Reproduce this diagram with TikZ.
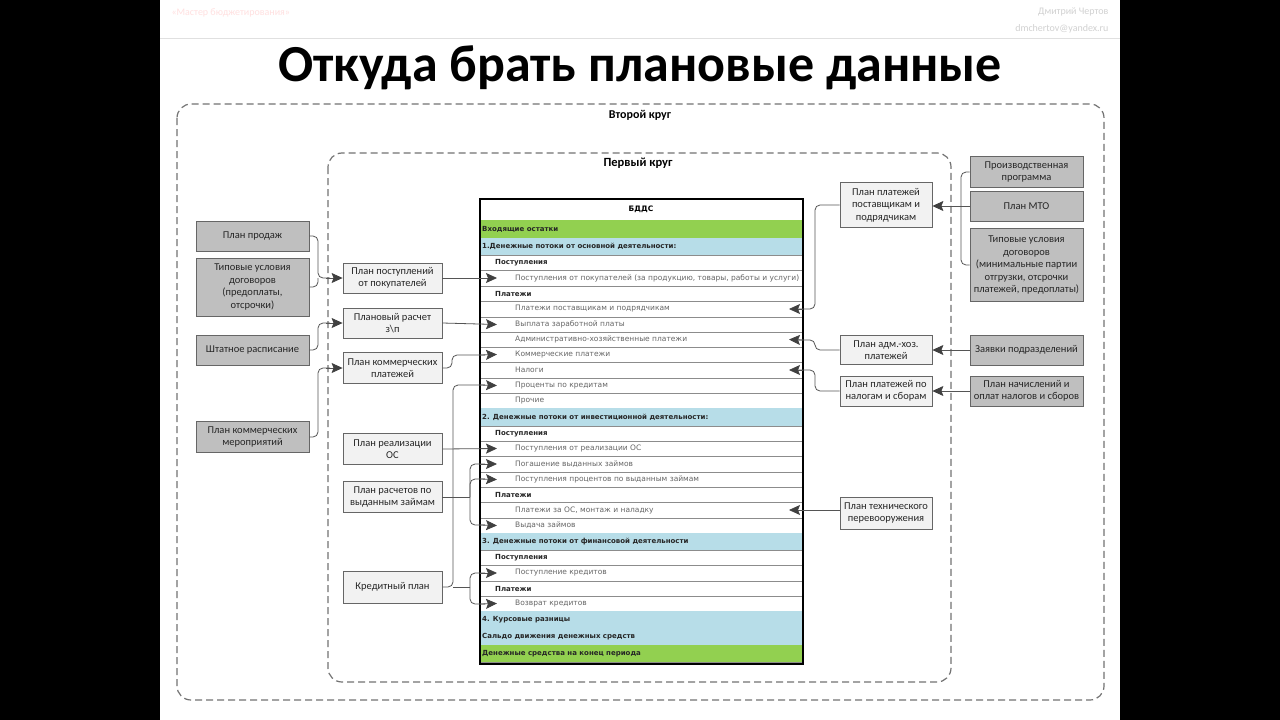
\documentclass[tikz,border=0pt]{standalone}
\usepackage{fontspec}
\setmainfont{Carlito}
\newfontfamily\tabfont{DejaVu Sans}
\usetikzlibrary{arrows.meta}
\definecolor{gbox}{HTML}{BFBFBF}
\definecolor{lbox}{HTML}{F2F2F2}
\definecolor{rgreen}{HTML}{92D050}
\definecolor{rblue}{HTML}{B7DDE8}
\definecolor{lgr}{HTML}{555555}
\tikzset{
 dbox/.style={draw=black!60,fill=gbox,line width=0.8pt,minimum width=113pt,align=center,font=\fontsize{10.5}{12.5}\selectfont,text=black!85,inner sep=1pt},
 lbx/.style={draw=black!60,fill=lbox,line width=0.8pt,align=center,font=\fontsize{10.5}{12.5}\selectfont,text=black!85,inner sep=1pt},
 conn/.style={draw=lgr,line width=0.8pt,rounded corners=5pt},
 arr/.style={draw=lgr,line width=0.8pt,-{Stealth[length=11pt,width=10pt,inset=2pt,color=black!75,fill=black!75]}},
 circ/.style={draw=black!55,dashed,dash pattern=on 7pt off 4pt,line width=1.2pt,rounded corners=14pt},
}
\begin{document}
\begin{tikzpicture}[x=1pt,y=-1pt]
\useasboundingbox (0,0) rectangle (1280,720);
\fill[black] (0,0) rectangle (160,720);
\fill[black] (1120,0) rectangle (1280,720);
\fill[white] (160,0) rectangle (1120,720);
\draw[black!12,line width=1pt] (160,38) -- (1120,38);
\node[anchor=west,text=red!12,font=\fontsize{10}{11}\selectfont] (hl) at (168,13) {«Мастер бюджетирования»};
\node[anchor=east,text=black!18,font=\fontsize{10}{11}\selectfont] (hr1) at (1112,12) {Дмитрий Чертов};
\node[anchor=east,text=black!18,font=\fontsize{10}{11}\selectfont] (hr2) at (1112,29) {dmchertov@yandex.ru};
\node[font=\fontsize{52}{56}\selectfont\bfseries] (title) at (640,68) {Откуда брать плановые данные};
\draw[circ] (177,104) rectangle (1104,700);
\draw[circ] (328,153) rectangle (951,682);
\node[font=\fontsize{12}{13}\selectfont\bfseries] (c2) at (640,115) {Второй круг};
\node[font=\fontsize{12.5}{13}\selectfont\bfseries] (c1) at (638,163) {Первый круг};
% table
\foreach \n/\ya/\yb/\st/\txt in {
0/199/220/h/БДДС,
1/220/238/g/Входящие остатки,
2/238/255/b/1.Денежные потоки от основной деятельности:,
3/255/270/s/Поступления,
4/270/286/i/{Поступления от покупателей (за продукцию, товары, работы и услуги)},
5/286/301/s/Платежи,
6/301/317/i/Платежи поставщикам и подрядчикам,
7/317/332/i/Выплата заработной платы,
8/332/347/i/Административно-хозяйственные платежи,
9/347/362/i/Коммерческие платежи,
10/362/378/i/Налоги,
11/378/393/i/Проценты по кредитам,
12/393/408/i/Прочие,
13/408/426/b/2. Денежные потоки от инвестиционной деятельности:,
14/426/441/s/Поступления,
15/441/456/i/Поступления от реализации ОС,
16/456/472/i/Погашение выданных займов,
17/472/487/i/Поступления процентов по выданным займам,
18/487/502/s/Платежи,
19/502/518/i/{Платежи за ОС, монтаж и наладку},
20/518/533/i/Выдача займов,
21/533/550/b/3. Денежные потоки от финансовой деятельности,
22/550/565/s/Поступления,
23/565/581/i/Поступление кредитов,
24/581/596/s/Платежи,
25/596/611/i/Возврат кредитов,
26/611/628/b/4. Курсовые разницы,
27/628/645/b/Сальдо движения денежных средств,
28/645/662/g/Денежные средства на конец периода}{
  \pgfmathsetmacro\ym{(\ya+\yb)/2}
  \if\st g \fill[rgreen] (480,\ya) rectangle (803,\yb);\fi
  \if\st b \fill[rblue] (480,\ya) rectangle (803,\yb);\fi
  \draw[black!45,line width=0.6pt] (480,\yb) -- (803,\yb);
  \coordinate (a\n) at (497,\ym);
  \coordinate (b\n) at (789,\ym);
  \if\st h \node[font=\tabfont\fontsize{7.5}{8}\selectfont\bfseries] (t\n) at (641,\ym) {\txt};\fi
  \if\st g \node[anchor=west,inner sep=1pt,font=\tabfont\fontsize{7}{8}\selectfont\bfseries,text=black!85] (t\n) at (481,\ym) {\txt};\fi
  \if\st b \node[anchor=west,inner sep=1pt,font=\tabfont\fontsize{7}{8}\selectfont\bfseries,text=black!85] (t\n) at (481,\ym) {\txt};\fi
  \if\st s \node[anchor=west,inner sep=1pt,font=\tabfont\fontsize{7}{8}\selectfont\bfseries,text=black!85] (t\n) at (494,\ym) {\txt};\fi
  \if\st i \node[anchor=west,inner sep=1pt,font=\tabfont\fontsize{7.5}{8}\selectfont,text=black!60] (t\n) at (514,\ym) {\txt};\fi
}
\draw[black,line width=2pt] (480,199) rectangle (803,664);
% left gray boxes
\node[dbox,minimum height=30pt] (pp) at (252.5,236) {План продаж};
\node[dbox,minimum height=58pt] (tu) at (252.5,287) {Типовые условия\\договоров\\(предоплаты,\\отсрочки)};
\node[dbox,minimum height=30pt] (sr) at (252.5,350) {Штатное расписание};
\node[dbox,minimum height=31pt] (km) at (252.5,437) {План коммерческих\\мероприятий};
% middle boxes
\node[lbx,minimum width=99pt,minimum height=30pt] (pps) at (392.5,278) {План поступлений\\от покупателей};
\node[lbx,minimum width=99pt,minimum height=30pt] (zp) at (392.5,323) {Плановый расчет\\з\textbackslash п};
\node[lbx,minimum width=99pt,minimum height=31pt] (kp) at (392.5,368) {План коммерческих\\платежей};
\node[lbx,minimum width=99pt,minimum height=31pt] (ros) at (392.5,449) {План реализации\\ОС};
\node[lbx,minimum width=99pt,minimum height=31pt] (vz) at (392.5,497) {План расчетов по\\выданным займам};
\node[lbx,minimum width=99pt,minimum height=32pt] (kr) at (392.5,587) {Кредитный план};
% right middle
\node[lbx,minimum width=92pt,minimum height=45pt] (pst) at (886,205) {План платежей\\поставщикам и\\подрядчикам};
\node[lbx,minimum width=92pt,minimum height=29pt] (adm) at (886,350) {План адм.-хоз.\\платежей};
\node[lbx,minimum width=92pt,minimum height=30pt] (nal) at (886,391) {План платежей по\\налогам и сборам};
\node[lbx,minimum width=92pt,minimum height=32pt] (teh) at (886,513) {План технического\\перевооружения};
% right gray
\node[dbox,minimum height=31pt] (prg) at (1026.5,172) {Производственная\\программа};
\node[dbox,minimum height=30pt] (mto) at (1026.5,206) {План МТО};
\node[dbox,minimum height=73pt] (tu2) at (1026.5,265) {Типовые условия\\договоров\\(минимальные партии\\отгрузки, отсрочки\\платежей, предоплаты)};
\node[dbox,minimum height=30pt] (zav) at (1026.5,350) {Заявки подразделений};
\node[dbox,minimum height=30pt] (nach) at (1026.5,391) {План начислений и\\оплат налогов и сборов};
% left connectors
\draw[conn] (pp.east) -- (318,236) -- (318,278) -- (330,278);
\draw[conn] (tu.east |- 0,287) -- (318,287) -- (318,278);
\draw[arr] (326,278) -- (pps.west);
\draw[conn] (sr.east) -- (318,350) -- (318,323) -- (330,323);
\draw[arr] (326,323) -- (zp.west);
\draw[conn] (km.east) -- (318,437) -- (318,368) -- (330,368);
\draw[arr] (326,368) -- (kp.west);
\draw[arr] (pps.east) -- (a4);
\draw[arr] (zp.east) -- (a7);
\draw[conn] (kp.east) -- (452,368) -- (452,355) -- (485,355);
\draw[arr] (480,355) -- (a9);
\draw[conn] (kr.east) -- (453,587) -- (453,385) -- (485,385);
\draw[arr] (480,385) -- (a11);
\draw[arr] (ros.east) -- (a15);
\draw[conn] (vz.east) -- (470,497);
\draw[conn] (470,497) -- (470,464) -- (485,464);
\draw[conn] (470,497) -- (470,479) -- (485,479);
\draw[conn] (470,497) -- (470,525) -- (485,525);
\draw[arr] (480,464) -- (a16);
\draw[arr] (480,479) -- (a17);
\draw[arr] (480,525) -- (a20);
\draw[conn] (453,587) -- (470,587);
\draw[conn] (470,587) -- (470,573) -- (485,573);
\draw[conn] (470,587) -- (470,604) -- (485,604);
\draw[arr] (480,573) -- (a23);
\draw[arr] (480,604) -- (a25);
% right connectors
\draw[conn] (pst.west) -- (815,205) -- (815,309) -- (798,309);
\draw[arr] (803,309) -- (b6);
\draw[conn] (adm.west) -- (815,350) -- (815,340) -- (798,340);
\draw[arr] (803,340) -- (b8);
\draw[conn] (nal.west) -- (815,391) -- (815,370) -- (798,370);
\draw[arr] (803,370) -- (b10);
\draw[arr] (teh.west |- 0,510) -- (b19);
\draw[conn] (prg.west) -- (961,172) -- (961,206);
\draw[conn] (tu2.west) -- (961,265) -- (961,206);
\draw[arr] (mto.west) -- (pst.east |- mto.west);
\draw[arr] (zav.west) -- (adm.east);
\draw[arr] (nach.west) -- (nal.east);
\end{tikzpicture}
\end{document}
